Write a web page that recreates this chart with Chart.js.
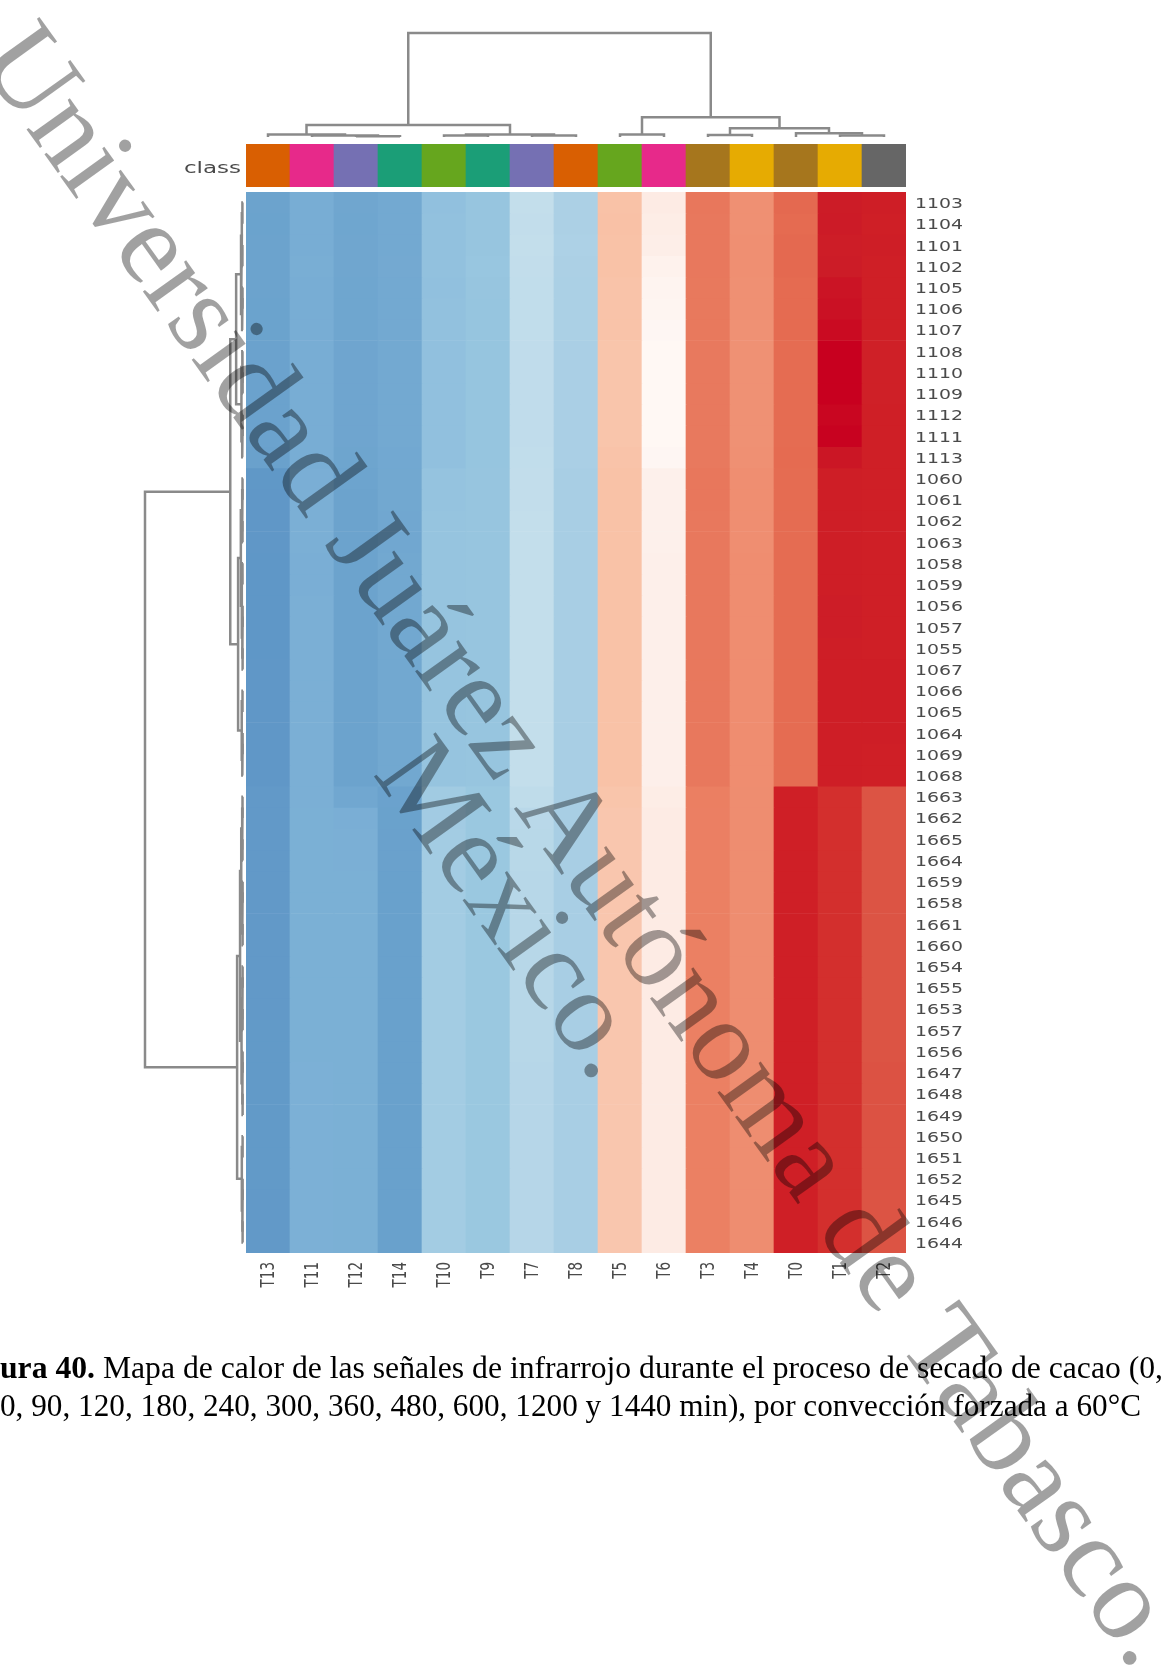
<!DOCTYPE html>
<html>
<head>
<meta charset="utf-8">
<script src="https://cdn.jsdelivr.net/npm/chart.js@4.4.1/dist/chart.umd.min.js"></script>
<style>
  html, body { margin: 0; padding: 0; background: #fff; }
  #page { position: relative; width: 1169px; height: 1675px; overflow: hidden; background: #fff; }
  #page canvas { position: absolute; left: 0; top: 0; }
  #page canvas.plot { filter: blur(0.35px); }
  .caption {
    position: absolute; left: 0; white-space: nowrap; transform-origin: 0 0;
    font-family: "Liberation Serif", "Times New Roman", serif; font-size: 31.5px; line-height: 1; color: #000;
  }
  #wm { pointer-events: none; z-index: 10; }
</style>
</head>
<body>
<div id="page">
  <canvas class="plot" id="rowDendro" width="1169" height="1675"></canvas>
  <canvas class="plot" id="colDendro" width="1169" height="1675"></canvas>
  <canvas class="plot" id="classBar" width="1169" height="1675"></canvas>
  <canvas class="plot" id="heat" width="1169" height="1675"></canvas>
  <div class="caption" id="cap1" style="top:1352px"><b>ura 40.</b> Mapa de calor de las señales de infrarrojo durante el proceso de secado de cacao (0,</div>
  <div class="caption" id="cap2" style="top:1390px">0, 90, 120, 180, 240, 300, 360, 480, 600, 1200 y 1440 min), por convección forzada a 60°C</div>
  <canvas id="wm" width="1169" height="1675"></canvas>
</div>
<script>
// ---------- data ----------
// sample columns in clustered order, and their class colours
const columnLabels = ['T13','T11','T12','T14','T10','T9','T7','T8','T5','T6','T3','T4','T0','T1','T2'];
const classColors  = ['#d95f02','#e7298a','#7570b3','#1b9e77','#66a61e','#1b9e77','#7570b3','#d95f02','#66a61e','#e7298a','#a6761d','#e6ab02','#a6761d','#e6ab02','#666666'];

// infrared signals (cm-1), clustered order
const rowLabels1100 = ['1103','1104','1101','1102','1105','1106','1107','1108','1110','1109','1112','1111','1113'];
const rowLabels1060 = ['1060','1061','1062','1063','1058','1059','1056','1057','1055','1067','1066','1065','1064','1069','1068'];
const rowLabels1650 = ['1663','1662','1665','1664','1659','1658','1661','1660','1654','1655','1653','1657','1656','1647','1648','1649','1650','1651','1652','1645','1646','1644'];

// standardised intensities, one row per signal, columns as in columnLabels
const values1100 = [
  [-1.50,-1.26,-1.42,-1.36,-0.96,-0.88,-0.44,-0.68,0.40,0.12,1.16,0.82,1.36,1.95,1.88],
  [-1.51,-1.25,-1.43,-1.35,-0.95,-0.88,-0.45,-0.68,0.41,0.11,1.15,0.82,1.35,1.96,1.86],
  [-1.50,-1.25,-1.42,-1.35,-0.95,-0.88,-0.44,-0.67,0.40,0.10,1.15,0.83,1.36,1.93,1.88],
  [-1.49,-1.24,-1.42,-1.34,-0.95,-0.87,-0.45,-0.68,0.40,0.07,1.15,0.83,1.36,1.94,1.87],
  [-1.50,-1.25,-1.43,-1.35,-0.96,-0.88,-0.46,-0.69,0.39,0.05,1.14,0.82,1.35,2.02,1.86],
  [-1.51,-1.26,-1.43,-1.36,-0.95,-0.89,-0.46,-0.69,0.39,0.04,1.14,0.82,1.35,2.05,1.86],
  [-1.51,-1.25,-1.43,-1.35,-0.95,-0.89,-0.46,-0.69,0.39,0.03,1.14,0.81,1.35,2.10,1.86],
  [-1.52,-1.26,-1.44,-1.36,-0.96,-0.89,-0.47,-0.70,0.38,0.02,1.13,0.81,1.34,2.20,1.85],
  [-1.52,-1.26,-1.44,-1.36,-0.96,-0.89,-0.47,-0.70,0.38,0.02,1.13,0.81,1.34,2.22,1.85],
  [-1.52,-1.26,-1.44,-1.36,-0.96,-0.89,-0.47,-0.70,0.38,0.02,1.13,0.81,1.34,2.21,1.85],
  [-1.52,-1.26,-1.44,-1.36,-0.96,-0.89,-0.47,-0.70,0.38,0.02,1.13,0.81,1.34,2.15,1.86],
  [-1.52,-1.26,-1.44,-1.36,-0.96,-0.89,-0.47,-0.70,0.38,0.02,1.13,0.81,1.34,2.18,1.86],
  [-1.54,-1.25,-1.45,-1.37,-0.96,-0.89,-0.46,-0.70,0.39,0.03,1.13,0.82,1.35,2.00,1.86]
];
const values1060 = [
  [-1.73,-1.23,-1.48,-1.38,-0.91,-0.88,-0.45,-0.72,0.40,0.08,1.16,0.84,1.34,1.90,1.87],
  [-1.74,-1.22,-1.49,-1.38,-0.91,-0.88,-0.45,-0.72,0.40,0.08,1.16,0.84,1.34,1.89,1.87],
  [-1.74,-1.22,-1.49,-1.39,-0.90,-0.88,-0.44,-0.72,0.40,0.08,1.15,0.84,1.34,1.89,1.87],
  [-1.74,-1.22,-1.49,-1.39,-0.90,-0.88,-0.44,-0.72,0.40,0.08,1.15,0.84,1.34,1.88,1.87],
  [-1.75,-1.23,-1.50,-1.38,-0.90,-0.88,-0.44,-0.72,0.40,0.09,1.15,0.85,1.34,1.90,1.86],
  [-1.75,-1.23,-1.50,-1.38,-0.90,-0.88,-0.44,-0.72,0.40,0.09,1.15,0.85,1.34,1.90,1.86],
  [-1.75,-1.22,-1.50,-1.38,-0.90,-0.88,-0.44,-0.72,0.40,0.09,1.15,0.85,1.33,1.91,1.86],
  [-1.75,-1.22,-1.50,-1.38,-0.90,-0.88,-0.44,-0.72,0.40,0.09,1.15,0.85,1.33,1.91,1.86],
  [-1.75,-1.22,-1.50,-1.38,-0.90,-0.88,-0.44,-0.72,0.40,0.09,1.15,0.85,1.33,1.90,1.86],
  [-1.74,-1.22,-1.50,-1.38,-0.90,-0.88,-0.44,-0.72,0.40,0.09,1.15,0.85,1.33,1.89,1.88],
  [-1.74,-1.22,-1.50,-1.38,-0.90,-0.88,-0.44,-0.72,0.40,0.09,1.15,0.85,1.33,1.89,1.88],
  [-1.74,-1.22,-1.50,-1.38,-0.90,-0.88,-0.44,-0.72,0.40,0.09,1.15,0.85,1.33,1.89,1.88],
  [-1.74,-1.22,-1.50,-1.38,-0.90,-0.88,-0.44,-0.72,0.40,0.09,1.15,0.85,1.33,1.89,1.88],
  [-1.74,-1.22,-1.49,-1.38,-0.90,-0.88,-0.44,-0.72,0.40,0.09,1.15,0.85,1.33,1.90,1.87],
  [-1.74,-1.22,-1.49,-1.38,-0.90,-0.88,-0.44,-0.72,0.40,0.09,1.15,0.85,1.33,1.90,1.87]
];
const values1650 = [
  [-1.70,-1.22,-1.40,-1.52,-0.78,-0.84,-0.48,-0.72,0.38,0.11,1.04,0.86,1.86,1.73,1.50],
  [-1.70,-1.21,-1.23,-1.53,-0.77,-0.84,-0.55,-0.72,0.37,0.12,1.03,0.86,1.86,1.73,1.50],
  [-1.70,-1.21,-1.22,-1.54,-0.76,-0.84,-0.56,-0.72,0.37,0.12,1.03,0.86,1.86,1.73,1.50],
  [-1.70,-1.21,-1.22,-1.54,-0.76,-0.84,-0.56,-0.72,0.37,0.12,1.02,0.86,1.86,1.73,1.50],
  [-1.70,-1.21,-1.21,-1.55,-0.76,-0.84,-0.57,-0.72,0.37,0.12,1.02,0.86,1.86,1.73,1.50],
  [-1.70,-1.21,-1.21,-1.55,-0.76,-0.84,-0.57,-0.72,0.37,0.12,1.02,0.86,1.86,1.73,1.50],
  [-1.70,-1.21,-1.21,-1.55,-0.76,-0.84,-0.57,-0.72,0.37,0.12,1.02,0.86,1.86,1.73,1.50],
  [-1.70,-1.21,-1.21,-1.55,-0.76,-0.84,-0.57,-0.72,0.37,0.12,1.02,0.86,1.86,1.73,1.50],
  [-1.70,-1.21,-1.21,-1.55,-0.76,-0.84,-0.57,-0.72,0.37,0.12,1.02,0.86,1.86,1.73,1.50],
  [-1.70,-1.21,-1.21,-1.55,-0.76,-0.84,-0.57,-0.72,0.37,0.12,1.02,0.86,1.86,1.73,1.50],
  [-1.70,-1.21,-1.21,-1.55,-0.76,-0.84,-0.57,-0.72,0.37,0.12,1.02,0.86,1.86,1.73,1.50],
  [-1.69,-1.21,-1.21,-1.55,-0.76,-0.84,-0.57,-0.72,0.37,0.12,1.02,0.86,1.86,1.73,1.50],
  [-1.69,-1.21,-1.21,-1.55,-0.76,-0.84,-0.57,-0.72,0.37,0.12,1.02,0.86,1.86,1.73,1.50],
  [-1.69,-1.20,-1.21,-1.55,-0.76,-0.84,-0.58,-0.72,0.37,0.12,1.02,0.86,1.86,1.73,1.51],
  [-1.69,-1.20,-1.21,-1.55,-0.76,-0.84,-0.58,-0.72,0.37,0.12,1.02,0.86,1.86,1.73,1.51],
  [-1.69,-1.20,-1.21,-1.55,-0.76,-0.84,-0.58,-0.72,0.37,0.12,1.02,0.86,1.86,1.73,1.51],
  [-1.69,-1.20,-1.21,-1.55,-0.76,-0.84,-0.58,-0.72,0.37,0.12,1.02,0.86,1.86,1.73,1.51],
  [-1.69,-1.20,-1.21,-1.55,-0.76,-0.84,-0.58,-0.72,0.37,0.12,1.02,0.86,1.86,1.73,1.51],
  [-1.69,-1.20,-1.21,-1.55,-0.76,-0.84,-0.58,-0.72,0.37,0.12,1.02,0.86,1.86,1.73,1.51],
  [-1.70,-1.20,-1.21,-1.55,-0.76,-0.84,-0.58,-0.72,0.37,0.12,1.02,0.86,1.86,1.73,1.50],
  [-1.70,-1.20,-1.21,-1.55,-0.76,-0.84,-0.58,-0.72,0.37,0.12,1.02,0.86,1.86,1.73,1.50],
  [-1.70,-1.20,-1.21,-1.55,-0.76,-0.84,-0.58,-0.72,0.37,0.12,1.02,0.86,1.86,1.73,1.50]
];

// clustering trees: [left, right, merge height]; leaves are positions in the order above
const colTree = [
  [[0, [1, [2, 3, 0.8], 1.5], 2.5], [[4, 5, 1.5], [6, 7, 1.5], 2.5], 11.5],
  [[8, 9, 2.5], [[10, 11, 2.0], [12, [13, 14, 1.5], 3.5], 8.5], 19],
  100
];
const rowTree = [
  [
    [
      [[[0, 1, 0.6], [2, 3, 0.6], 1.2], [[4, 5, 0.5], 6, 0.9], 2.0],
      [[7, [8, 9, 0.4], 0.7], [[10, 11, 0.4], 12, 0.8], 1.6],
      7
    ],
    [
      [[[13, 14, 0.5], [15, 16, 0.5], 1.0], [[17, 18, 0.5], [[19, 20, 0.4], [21, 22, 0.4], 0.8], 1.2], 2.2],
      [[23, 24, 0.5], [[25, 26, 0.4], 27, 0.7], 1.3],
      5
    ],
    13
  ],
  [
    [
      [[[28, 29, 0.5], [30, 31, 0.5], 1.0], [[32, 33, 0.4], [34, 35, 0.4], 0.9], 1.8],
      [[[36, 37, 0.4], [38, 39, 0.4], 0.8], [[40, 41, 0.4], [42, 43, 0.4], 0.8], 1.5],
      3
    ],
    [[44, 45, 0.4], [[46, 47, 0.4], [48, 49, 0.4], 0.7], 1.2],
    6
  ],
  100
];

// diverging colour scale: value -> colour
const colourStops = [
  [-1.75, '#5f97c7'], [-1.50, '#6ca3cd'], [-1.25, '#78add4'], [-0.95, '#92c1de'],
  [-0.85, '#99c7e0'], [-0.70, '#aacfe5'], [-0.57, '#b7d7e8'], [-0.45, '#c2ddeb'],
  [0.00, '#fffaf7'], [0.10, '#fdeee8'], [0.40, '#f9c2a7'], [0.83, '#ef8f72'],
  [1.02, '#eb8063'], [1.15, '#e8785d'], [1.35, '#e56b51'], [1.50, '#dc5444'],
  [1.73, '#d32f2d'], [1.86, '#cf1f26'], [1.95, '#cc1c27'], [2.20, '#c8001f']
];

// ---------- helpers ----------
function hexToRgb(h) { return [1, 3, 5].map(i => parseInt(h.substr(i, 2), 16)); }
function colourFor(v) {
  if (v <= colourStops[0][0]) return colourStops[0][1];
  const last = colourStops[colourStops.length - 1];
  if (v >= last[0]) return last[1];
  for (let i = 1; i < colourStops.length; i++) {
    const [v1, c1] = colourStops[i];
    if (v <= v1) {
      const [v0, c0] = colourStops[i - 1];
      const t = (v - v0) / (v1 - v0);
      const a = hexToRgb(c0), b = hexToRgb(c1);
      const m = a.map((x, k) => Math.round(x + (b[k] - x) * t));
      return `rgb(${m[0]},${m[1]},${m[2]})`;
    }
  }
  return last[1];
}
function dendroLinks(tree) {
  const links = [];
  (function walk(node) {
    if (typeof node === 'number') return { pos: node, h: 0 };
    const a = walk(node[0]), b = walk(node[1]);
    links.push({ a, b, h: node[2] });
    return { pos: (a.pos + b.pos) / 2, h: node[2] };
  })(tree);
  return links;
}

const rowLabels = [...rowLabels1100, ...rowLabels1060, ...rowLabels1650];
const heatRows = [...values1100, ...values1060, ...values1650];
const nRows = heatRows.length;

const W = 1169, H = 1675;
const heatBox = { left: 246, right: 906, top: 192, bottom: 1253 };
const LABEL_GREY = '#4a4a4a';

const baseOptions = (padding) => ({
  responsive: false,
  animation: false,
  events: [],
  devicePixelRatio: 1,
  layout: { padding },
  plugins: { legend: { display: false }, tooltip: { enabled: false } }
});

// ---------- heat map ----------
const heatText = {
  id: 'heatText',
  afterDraw(chart) {
    const { ctx, chartArea } = chart;
    const xs = chart.scales.x, ys = chart.scales.y;
    ctx.save();
    ctx.fillStyle = LABEL_GREY;
    ctx.font = '13.5px "DejaVu Sans"';
    const stretch = 48 / ctx.measureText('1103').width;
    ctx.textBaseline = 'middle';
    ctx.textAlign = 'left';
    rowLabels.forEach((lab, r) => {
      ctx.save();
      ctx.translate(chartArea.right + 9, ys.getPixelForValue(r + 0.5) + 2);
      ctx.scale(stretch, 1);
      ctx.fillText(lab, 0, 0);
      ctx.restore();
    });
    ctx.font = '13.5px "DejaVu Sans"';
    ctx.textAlign = 'right';
    columnLabels.forEach((lab, i) => {
      ctx.save();
      ctx.translate(xs.getPixelForValue(i) + 1, chartArea.bottom + 9);
      ctx.scale(stretch, 1);
      ctx.rotate(-Math.PI / 2);
      ctx.fillText(lab, 0, 0);
      ctx.restore();
    });
    ctx.restore();
  }
};

new Chart(document.getElementById('heat'), {
  type: 'bar',
  data: {
    labels: columnLabels,
    datasets: heatRows.map((vals, r) => ({
      label: rowLabels[r],
      data: vals.map(() => [r, r + 1]),
      backgroundColor: vals.map(colourFor),
      borderWidth: 0,
      grouped: false,
      barPercentage: 1,
      categoryPercentage: 1
    }))
  },
  options: Object.assign(baseOptions({ left: heatBox.left, right: W - heatBox.right, top: heatBox.top, bottom: H - heatBox.bottom }), {
    scales: {
      x: { type: 'category', display: false, offset: true },
      y: { type: 'linear', min: 0, max: nRows, reverse: true, display: false }
    }
  }),
  plugins: [heatText]
});

// ---------- class strip ----------
const classText = {
  id: 'classText',
  afterDraw(chart) {
    const { ctx, chartArea } = chart;
    ctx.save();
    ctx.fillStyle = LABEL_GREY;
    ctx.font = '16px "DejaVu Sans"';
    const stretch = 57 / ctx.measureText('class').width;
    ctx.textAlign = 'right';
    ctx.textBaseline = 'middle';
    ctx.translate(chartArea.left - 5, (chartArea.top + chartArea.bottom) / 2 + 3);
    ctx.scale(stretch, 1);
    ctx.fillText('class', 0, 0);
    ctx.restore();
  }
};
new Chart(document.getElementById('classBar'), {
  type: 'bar',
  data: {
    labels: columnLabels,
    datasets: [{
      label: 'class',
      data: columnLabels.map(() => [0, 1]),
      backgroundColor: classColors,
      borderWidth: 0,
      barPercentage: 1,
      categoryPercentage: 1
    }]
  },
  options: Object.assign(baseOptions({ left: heatBox.left, right: W - heatBox.right, top: 144, bottom: H - 187 }), {
    scales: {
      x: { type: 'category', display: false, offset: true },
      y: { type: 'linear', min: 0, max: 1, display: false }
    }
  }),
  plugins: [classText]
});

// ---------- dendrograms ----------
const DENDRO_LINE = { showLine: true, pointRadius: 0, borderColor: '#8a8a8a', borderWidth: 2.5, tension: 0, clip: false, borderJoinStyle: 'miter', fill: false };

new Chart(document.getElementById('colDendro'), {
  type: 'scatter',
  data: {
    datasets: dendroLinks(colTree).map(({ a, b, h }) => Object.assign({
      data: [{ x: a.pos, y: a.h }, { x: a.pos, y: h }, { x: b.pos, y: h }, { x: b.pos, y: b.h }]
    }, DENDRO_LINE))
  },
  options: Object.assign(baseOptions({ left: heatBox.left, right: W - heatBox.right, top: 33, bottom: H - 137 }), {
    scales: {
      x: { type: 'linear', min: -0.5, max: columnLabels.length - 0.5, display: false },
      y: { type: 'linear', min: 0, max: 100, display: false }
    }
  })
});

new Chart(document.getElementById('rowDendro'), {
  type: 'scatter',
  data: {
    datasets: dendroLinks(rowTree).map(({ a, b, h }) => Object.assign({
      data: [{ x: a.h, y: a.pos }, { x: h, y: a.pos }, { x: h, y: b.pos }, { x: b.h, y: b.pos }]
    }, DENDRO_LINE))
  },
  options: Object.assign(baseOptions({ left: 145, right: W - 243, top: heatBox.top, bottom: H - heatBox.bottom }), {
    scales: {
      x: { type: 'linear', min: 0, max: 100, reverse: true, display: false },
      y: { type: 'linear', min: -0.5, max: nRows - 0.5, reverse: true, display: false }
    }
  })
});

// ---------- caption width ----------
[['cap1', 1163], ['cap2', 1141]].forEach(([id, target]) => {
  const el = document.getElementById(id);
  const w = el.getBoundingClientRect().width;
  el.style.transform = `scaleX(${target / w})`;
});

// ---------- watermark ----------
(function () {
  const ctx = document.getElementById('wm').getContext('2d');
  ctx.save();
  ctx.translate(555, 866);
  ctx.rotate(54.34 * Math.PI / 180);
  ctx.fillStyle = 'rgba(0,0,0,0.37)';
  ctx.font = '116px "Liberation Serif"';
  ctx.textAlign = 'center';
  ctx.textBaseline = 'alphabetic';
  ctx.fillText('Universidad Juárez Autónoma de Tabasco.', 0, 0);
  ctx.fillText('México.', 10, 95);
  ctx.restore();
})();
</script>
</body>
</html>
